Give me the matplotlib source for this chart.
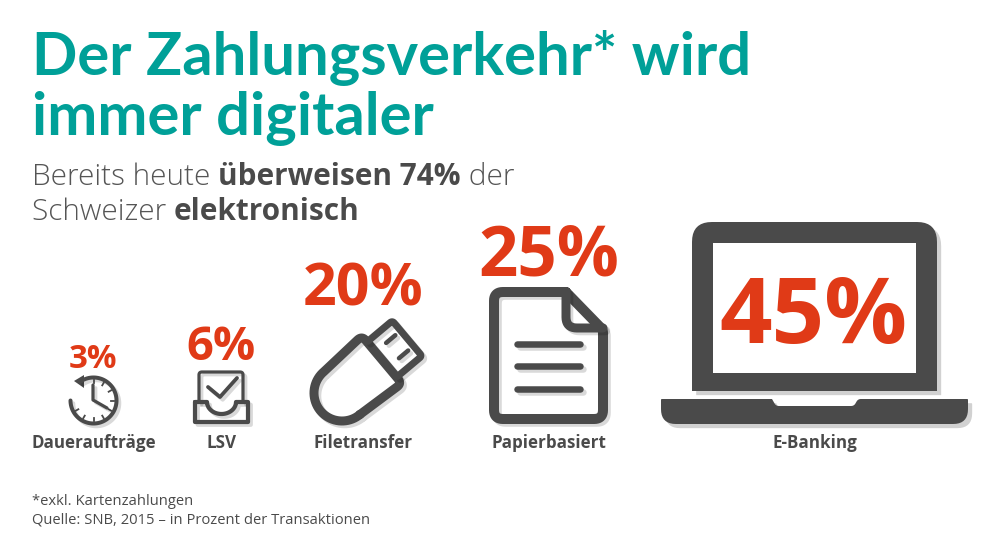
import numpy as np
import matplotlib
matplotlib.use("Agg")
import matplotlib.pyplot as plt
import matplotlib.patheffects as pe
from matplotlib.patches import Polygon
from matplotlib.transforms import Affine2D

# --- Data ---
categories = ["Daueraufträge", "LSV", "Filetransfer", "Papierbasiert", "E-Banking"]
shares = [3, 6, 20, 25, 45]

title_lines = ["Der Zahlungsverkehr* wird", "immer digitaler"]
subtitle_line1 = [("Bereits heute ", False), ("überweisen 74%", True), (" der", False)]
subtitle_line2 = [("Schweizer ", False), ("elektronisch", True)]
footer_lines = ["*exkl. Kartenzahlungen", "Quelle: SNB, 2015 – in Prozent der Transaktionen"]

# --- Style ---
TEAL = "#00A098"
RED = "#E03A17"
DARK = "#4A4A4A"
FONT = "Open Sans"

# icon centre and text layout, in pixels
label_x = [94, 221, 363, 549, 815]
value_x = [93, 221, 363, 549, 813]
value_base = [368, 360, 306, 275, 343]
value_px = [33, 47, 59, 69, 92]

fig = plt.figure(figsize=(10, 5.58), dpi=100)
ax = fig.add_axes([0, 0, 1, 1])
ax.set_xlim(0, 1000)
ax.set_ylim(558, 0)
ax.axis("off")

PX = 0.72  # pixels to points at dpi 100


def px_text(x, y, s, px, color=DARK, weight="normal", ha="left", family=FONT):
    return ax.text(x, y, s, fontsize=px * PX, color=color, fontweight=weight,
                   family=family, ha=ha, va="baseline", zorder=5)


def mixed_line(x, y, parts, px):
    renderer = fig.canvas.get_renderer()
    for s, bold in parts:
        t = px_text(x, y, s.replace(" ", "\u00a0"), px, color=DARK if bold else "#555555",
                    weight="bold" if bold else "light")
        x += t.get_window_extent(renderer).width


def line_shadow():
    return [pe.SimpleLineShadow(offset=(2, -2), shadow_color="#000000", alpha=0.15), pe.Normal()]


def patch_shadow():
    return [pe.SimplePatchShadow(offset=(3, -3), shadow_rgbFace="#000000", alpha=0.18), pe.Normal()]


def stroke(xs, ys, lw, transform=None):
    kw = {} if transform is None else {"transform": transform}
    ax.plot(xs, ys, color=DARK, lw=lw * PX, solid_capstyle="round", solid_joinstyle="round",
            path_effects=line_shadow(), **kw)


def round_poly(pts, radii):
    # polyline through pts with each inner corner rounded by a quadratic curve
    pts = np.asarray(pts, dtype=float)
    out = [pts[0]]
    for i in range(1, len(pts) - 1):
        p, prev, nxt = pts[i], pts[i - 1], pts[i + 1]
        r = radii[i - 1] if np.ndim(radii) else radii
        a = p + (prev - p) / np.linalg.norm(prev - p) * r
        b = p + (nxt - p) / np.linalg.norm(nxt - p) * r
        for t in np.linspace(0, 1, 10):
            out.append((1 - t) ** 2 * a + 2 * t * (1 - t) * p + t ** 2 * b)
    out.append(pts[-1])
    return np.array(out)


def draw_clock():
    cx, cy, r = 93.5, 400.5, 23
    ang = np.radians(np.linspace(125, -180, 80))
    stroke(cx + r * np.cos(ang), cy - r * np.sin(ang), 4)
    ax.add_patch(Polygon([(74, 381), (84, 375), (84, 388)], fc=DARK, ec="none"))
    for a in [90, 60, 30, 0, -30, -60, -90, -120, -150]:
        c, s = np.cos(np.radians(a)), np.sin(np.radians(a))
        ax.plot([cx + 17.5 * c, cx + 20.5 * c], [cy - 17.5 * s, cy - 20.5 * s], color=DARK, lw=1.3)
    stroke([93, 93, 107], [385, 400, 408], 3.2)


def draw_tray():
    top = round_poly([(199, 402), (199, 372), (243, 372), (243, 402)], 3)
    stroke(top[:, 0], top[:, 1], 3.2)
    stroke([208, 220, 237], [387, 397, 378], 3.8)
    t = np.radians(np.linspace(0, 180, 30))
    bowl_x = 221.5 + 14.5 * np.cos(t)
    bowl_y = 402 + 12 * np.sin(t)
    xs = np.concatenate([[195, 195, 248, 248], bowl_x, [195]])
    ys = np.concatenate([[402, 422, 422, 402], bowl_y, [402]])
    stroke(xs, ys, 4.2)


def draw_usb():
    tr = Affine2D().rotate_deg(-40).translate(342, 393) + ax.transData
    a = np.radians(np.linspace(90, 270, 40))
    shoulder = round_poly([(0, -28), (52, -31), (52, 31), (0, 28)], 6)
    xs = np.concatenate([28 * np.cos(a), shoulder[:, 0]])
    ys = np.concatenate([28 * np.sin(a), shoulder[:, 1]])
    stroke(xs, ys, 9, transform=tr)
    plug = round_poly([(53, -23), (85, -23), (85, 23), (53, 23)], 3)
    stroke(plug[:, 0], plug[:, 1], 7, transform=tr)
    stroke([66, 78], [-10, -10], 4.5, transform=tr)
    stroke([66, 78], [10, 10], 4.5, transform=tr)


def draw_paper():
    outline = round_poly([(566, 292), (494, 292), (494, 419), (603, 419), (603, 330), (566, 292)],
                         [9, 9, 9, 3])
    stroke(outline[:, 0], outline[:, 1], 10)
    fold = round_poly([(566, 292), (566, 328), (603, 328)], 11)
    stroke(fold[:, 0], fold[:, 1], 9)
    for y in [344, 366, 389]:
        stroke([517, 580], [y, y], 6.5)


def draw_laptop():
    screen_pts = round_poly([(692, 391), (692, 222), (937, 222), (937, 391)], 20)
    screen = Polygon(screen_pts, fc=DARK, ec="none", zorder=2)
    screen.set_path_effects(patch_shadow())
    ax.add_patch(screen)
    ax.add_patch(Polygon([(713, 243), (916, 243), (916, 373), (713, 373)], fc="white", ec="none", zorder=3))
    base_pts = round_poly([(772, 399), (776, 406), (854, 406), (858, 399), (968, 399), (968, 424),
                           (661, 424), (661, 399), (772, 399)],
                          [3, 3, 3, 1, 15, 15, 1])
    base = Polygon(base_pts, fc=DARK, ec="none", zorder=2)
    base.set_path_effects(patch_shadow())
    ax.add_patch(base)


draw_clock()
draw_tray()
draw_usb()
draw_paper()
draw_laptop()

# --- Texts ---
px_text(32, 75, title_lines[0], 59.8, color=TEAL, weight="bold", family="Lato")
px_text(32, 135, title_lines[1], 59.8, color=TEAL, weight="bold", family="Lato")

mixed_line(32, 185, subtitle_line1, 29.7)
mixed_line(32, 220, subtitle_line2, 29.7)

for name, share, lx, vx, base_y, vpx in zip(categories, shares, label_x, value_x, value_base, value_px):
    px_text(vx, base_y, f"{share}%", vpx, color=RED, weight="bold", ha="center")
    px_text(lx, 448, name, 17, weight="bold", ha="center")

px_text(32, 505, footer_lines[0], 14.7)
px_text(32, 524, footer_lines[1], 14.7)

plt.savefig("out.png", dpi=100)
